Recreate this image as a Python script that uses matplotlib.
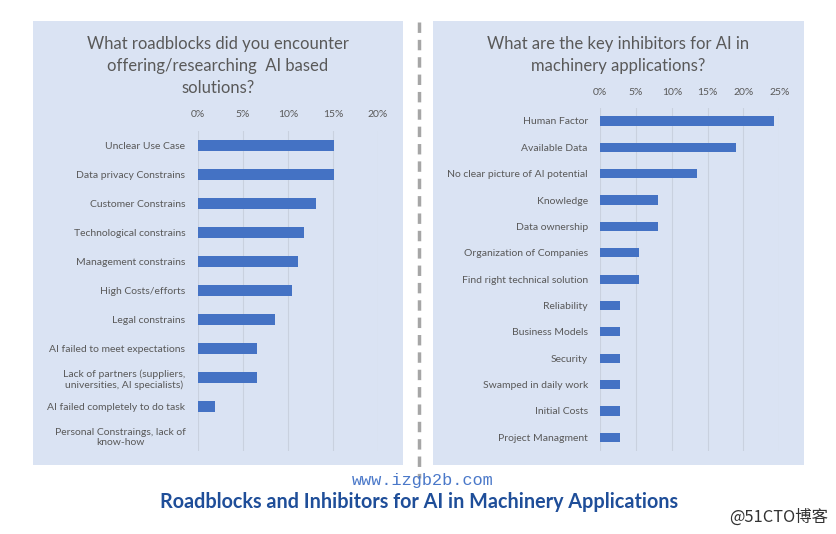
import matplotlib.pyplot as plt
from matplotlib.patches import Rectangle
from matplotlib.lines import Line2D

plt.rcParams['font.family'] = ['Lato', 'DejaVu Sans']

# left chart: roadblocks
road_labels = ["Unclear Use Case", "Data privacy Constrains", "Customer Constrains",
               "Technological constrains", "Management constrains", "High Costs/efforts",
               "Legal constrains", "AI failed to meet expectations",
               "Lack of partners (suppliers,\nuniversities, AI specialists)",
               "AI failed completely to do task", "Personal Constraings, lack of\nknow-how"]
road_values = [15.1, 15.1, 13.1, 11.8, 11.1, 10.4, 8.5, 6.5, 6.5, 1.9, 0.0]
road_ticks = [0, 5, 10, 15, 20]

# right chart: inhibitors
inhib_labels = ["Human Factor", "Available Data", "No clear picture of AI potential",
                "Knowledge", "Data ownership", "Organization of Companies",
                "Find right technical solution", "Reliability", "Business Models",
                "Security", "Swamped in daily work", "Initial Costs", "Project Managment"]
inhib_values = [24.3, 18.9, 13.5, 8.1, 8.1, 5.4, 5.4, 2.7, 2.7, 2.7, 2.7, 2.7, 2.7]
inhib_ticks = [0, 5, 10, 15, 20, 25]

W, H = 837, 534
BAR = "#4472c4"
PANEL = "#dae3f3"
GREY = "#595959"

fig = plt.figure(figsize=(W / 100, H / 100), dpi=100)
fig.patch.set_facecolor("white")


def px_rect(x0, y0, x1, y1):
    # pixel box (top-left origin) -> figure fraction [l, b, w, h]
    return [x0 / W, 1 - y1 / H, (x1 - x0) / W, (y1 - y0) / H]


# panel backgrounds
for x0, x1 in [(33, 403), (433, 804)]:
    l, b, w, h = px_rect(x0, 21, x1, 465)
    fig.patches.append(Rectangle((l, b), w, h, transform=fig.transFigure,
                                 facecolor=PANEL, edgecolor="none", zorder=-1))

# dashed divider
fig.lines.append(Line2D([419 / W, 419 / W], [1 - 22 / H, 1 - 478 / H],
                        transform=fig.transFigure, color="#a6a6a6", lw=2.5,
                        linestyle=(0, (3, 2)), zorder=-0.5))


def bar_panel(rect, labels, values, ticks, height):
    ax = fig.add_axes(rect)
    ax.set_zorder(2)
    ax.set_facecolor("none")
    y = range(len(labels))
    ax.barh(y, values, height=height, color=BAR, zorder=3)
    ax.set_ylim(len(labels) - 0.5, -0.5)
    ax.set_xlim(ticks[0], ticks[-1])
    ax.set_yticks(list(y))
    ax.set_yticklabels(labels, fontsize=7.5, color=GREY)
    for lbl in ax.get_yticklabels():
        lbl.set_multialignment("center")
    ax.set_xticks(ticks)
    ax.set_xticklabels([f"{t}%" for t in ticks], fontsize=7.5, color=GREY)
    ax.xaxis.tick_top()
    ax.tick_params(length=0, axis="y", pad=9)
    ax.tick_params(length=0, axis="x", pad=8)
    ax.grid(axis="x", color="#c9d1df", lw=0.8, zorder=0)
    for s in ax.spines.values():
        s.set_visible(False)
    return ax


bar_panel(px_rect(198, 130.5, 378, 450.5), road_labels, road_values, road_ticks, 0.38)
bar_panel(px_rect(600.3, 107.8, 779.3, 450.5), inhib_labels, inhib_values, inhib_ticks, 0.35)

fig.text(218 / W, 1 - 66 / H,
         "What roadblocks did you encounter\noffering/researching  AI based\nsolutions?",
         ha="center", va="center", fontsize=12, color=GREY, linespacing=1.45)
fig.text(618 / W, 1 - 55 / H,
         "What are the key inhibitors for AI in\nmachinery applications?",
         ha="center", va="center", fontsize=12, color=GREY, linespacing=1.45)

fig.text(423 / W, 1 - 481 / H, "www.izgb2b.com", ha="center", va="center",
         fontsize=12.2, color="#4a78c9", family=["Liberation Mono", "DejaVu Sans"])
fig.text(419 / W, 1 - 502 / H, "Roadblocks and Inhibitors for AI in Machinery Applications",
         ha="center", va="center", fontsize=14.2, color="#1f4e99", fontweight="bold")
fig.text(779 / W, 1 - 517 / H, "@51CTO博客", ha="center", va="center",
         fontsize=11.8, color="#333333", family=["Noto Sans CJK SC", "DejaVu Sans"])

fig.savefig("out.png", dpi=100)
